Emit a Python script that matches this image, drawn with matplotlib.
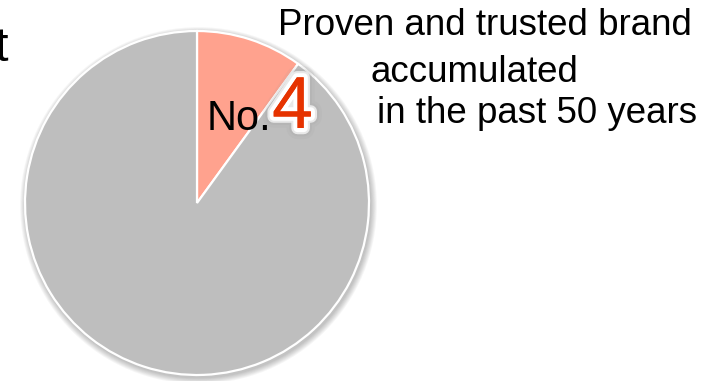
import matplotlib
matplotlib.use("Agg")
import matplotlib.pyplot as plt
import matplotlib.patheffects as pe
from matplotlib.patches import Circle

# Share of the slice holding the "No. 4" position vs. the rest of the market
shares = [10, 90]
slice_colors = ["#FFA28E", "#BEBEBE"]

rank_prefix = "No."
rank_value = "4"
caption_lines = ["Proven and trusted brand", "accumulated", "in the past 50 years"]
cut_text = "t"

W, H = 718, 381
fig = plt.figure(figsize=(W / 100, H / 100), dpi=100)
ax = fig.add_axes([0, 0, 1, 1])
ax.set_xlim(0, W)
ax.set_ylim(0, H)
ax.set_aspect("equal")
ax.axis("off")

font = "Liberation Sans"
cx, cy, r = 197, 178, 172

# soft drop shadow under the pie
for i in range(7):
    ax.add_patch(Circle((cx + 1.5, cy - 2.5), r + 1 + i * 0.9,
                        facecolor="black", edgecolor="none",
                        alpha=0.035, zorder=1))

ax.pie(shares, colors=slice_colors, startangle=90, counterclock=False,
       center=(cx, cy), radius=r, frame=True,
       wedgeprops=dict(edgecolor="white", linewidth=1.6, zorder=2))
ax.set_xlim(0, W)
ax.set_ylim(0, H)
ax.axis("off")

ax.text(207, 251, rank_prefix, fontsize=30, family=font, color="black",
        ha="left", va="baseline", zorder=5)

glow = [pe.withStroke(linewidth=16, foreground="#9a9a9a", alpha=0.10),
        pe.withStroke(linewidth=12, foreground="#9a9a9a", alpha=0.15),
        pe.withStroke(linewidth=9, foreground="white", alpha=0.7),
        pe.withStroke(linewidth=6, foreground="white"),
        pe.Normal()]
ax.text(272, 253, rank_value, fontsize=53, family=font, color="#E63300",
        ha="left", va="baseline", zorder=6, path_effects=glow)

line_pos = [(278, 346), (370, 299), (377, 258)]
for (x, y), line in zip(line_pos, caption_lines):
    ax.text(x, y, line, fontsize=26.5, family=font, color="black",
            ha="left", va="baseline", zorder=5)

ax.text(8, 320, cut_text, fontsize=35, family=font, color="black",
        ha="right", va="baseline", zorder=5)

fig.savefig("out.png", dpi=100, facecolor="white")
